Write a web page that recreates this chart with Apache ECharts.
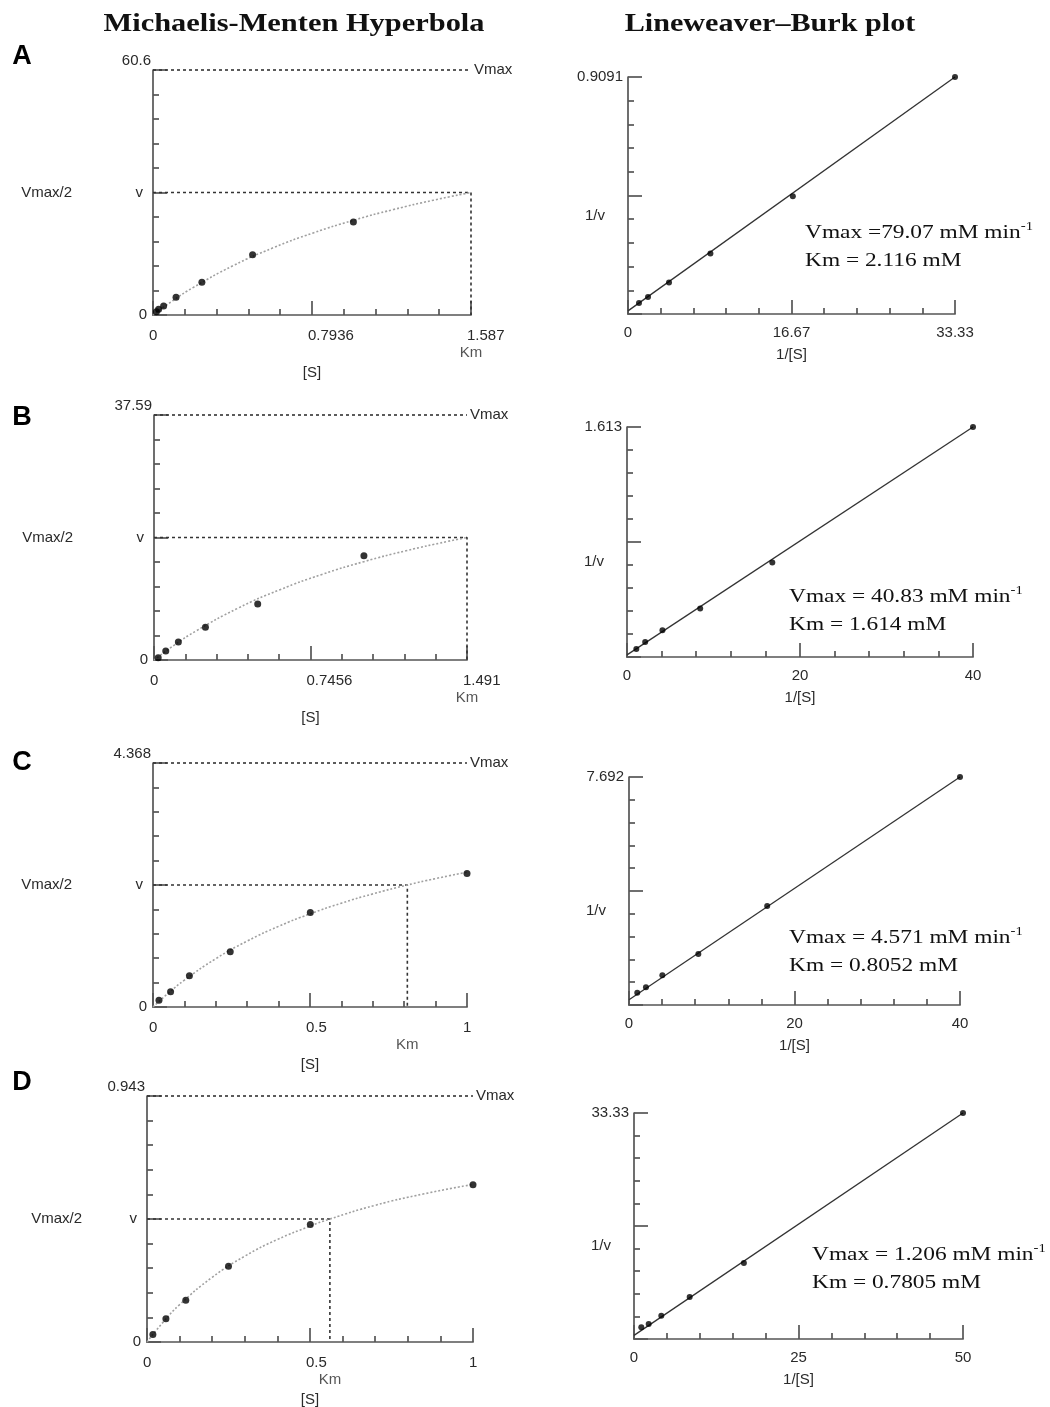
<!DOCTYPE html>
<html><head><meta charset="utf-8">
<script src="https://cdn.jsdelivr.net/npm/echarts@6/dist/echarts.min.js"></script>
<style>html,body{margin:0;padding:0;background:#fff}#c{width:1050px;height:1407px}</style>
</head><body><div id="c"></div>
<script>
// ---------------- DATA ----------------
// Panel A
const aS = [0.017, 0.028, 0.053, 0.115, 0.244, 0.497, 1.0];
const aV = [0.8, 1.4, 2.2, 4.37, 8.08, 14.9, 23.0];
const aCurveS = [0, 0.1, 0.2, 0.4, 0.6, 0.8, 1.0, 1.2, 1.4, 1.587];
const aCurveV = [0, 3.59, 6.78, 12.2, 16.63, 20.31, 23.42, 26.09, 28.4, 30.3];
const aVmaxAxis = 60.6, aKm = 1.587, aSMax = 1.587;
const aMMxTicks = ['0', '0.7936', '1.587'];
const aMMyTop = '60.6';
const aInvS = [1.12, 2.04, 4.18, 8.4, 16.8, 33.33];
const aInvV = [0.042, 0.065, 0.121, 0.232, 0.452, 0.9091];
const aFitX = [0, 33.33], aFitY = [0.012, 0.9091];
const aLBxMax = 33.33, aLByMax = 0.9091;
const aLBxTicks = ['0', '16.67', '33.33'], aLByTop = '0.9091';
const aVmaxText = 'Vmax =79.07 mM min', aKmText = 'Km = 2.116 mM';

// Panel B
const bS = [0.02, 0.056, 0.116, 0.245, 0.494, 1.0];
const bV = [0.36, 1.38, 2.76, 5.01, 8.59, 16.0];
const bCurveS = [0, 0.1, 0.2, 0.4, 0.6, 0.8, 1.0, 1.2, 1.4, 1.491];
const bCurveV = [0, 2.36, 4.45, 7.95, 10.79, 13.13, 15.09, 16.76, 18.2, 18.795];
const bVmaxAxis = 37.59, bKm = 1.491, bSMax = 1.491;
const bMMxTicks = ['0', '0.7456', '1.491'];
const bMMyTop = '37.59';
const bInvS = [1.08, 2.1, 4.1, 8.46, 16.8, 40];
const bInvV = [0.056, 0.105, 0.188, 0.34, 0.663, 1.613];
const bFitX = [0, 40], bFitY = [0.015, 1.613];
const bLBxMax = 40, bLByMax = 1.613;
const bLBxTicks = ['0', '20', '40'], bLByTop = '1.613';
const bVmaxText = 'Vmax = 40.83 mM min', bKmText = 'Km = 1.614 mM';

// Panel C
const cS = [0.019, 0.056, 0.116, 0.246, 0.501, 1.0];
const cV = [0.119, 0.274, 0.559, 0.988, 1.69, 2.39];
const cCurveS = [0, 0.05, 0.1, 0.2, 0.3, 0.4, 0.5, 0.6, 0.7, 0.81, 0.9, 1.0];
const cCurveV = [0, 0.254, 0.48, 0.865, 1.18, 1.444, 1.667, 1.859, 2.025, 2.184, 2.299, 2.413];
const cVmaxAxis = 4.368, cKm = 0.81, cSMax = 1;
const cMMxTicks = ['0', '0.5', '1'];
const cMMyTop = '4.368';
const cInvS = [1.0, 2.05, 4.03, 8.38, 16.7, 40];
const cInvV = [0.415, 0.595, 1.0, 1.72, 3.34, 7.692];
const cFitX = [0, 40], cFitY = [0.18, 7.692];
const cLBxMax = 40, cLByMax = 7.692;
const cLBxTicks = ['0', '20', '40'], cLByTop = '7.692';
const cVmaxText = 'Vmax = 4.571 mM min', cKmText = 'Km = 0.8052 mM';

// Panel D
const dS = [0.018, 0.058, 0.119, 0.25, 0.501, 1.0];
const dV = [0.029, 0.0896, 0.16, 0.29, 0.45, 0.603];
const dCurveS = [0, 0.05, 0.1, 0.2, 0.3, 0.4, 0.5, 0.561, 0.7, 0.85, 1.0];
const dCurveV = [0, 0.077, 0.143, 0.248, 0.329, 0.393, 0.444, 0.4715, 0.524, 0.568, 0.604];
const dVmaxAxis = 0.943, dKm = 0.561, dSMax = 1;
const dMMxTicks = ['0', '0.5', '1'];
const dMMyTop = '0.943';
const dInvS = [1.11, 2.23, 4.15, 8.46, 16.7, 50];
const dInvV = [1.72, 2.21, 3.44, 6.19, 11.2, 33.33];
const dFitX = [0, 50], dFitY = [0.53, 33.33];
const dLBxMax = 50, dLByMax = 33.33;
const dLBxTicks = ['0', '25', '50'], dLByTop = '33.33';
const dVmaxText = 'Vmax = 1.206 mM min', dKmText = 'Km = 0.7805 mM';

const letters = ['A', 'B', 'C', 'D'];

// ---------------- LAYOUT ----------------
const mmGrids = [
  {left: 153, top: 70, width: 318, height: 245},
  {left: 154, top: 415, width: 313, height: 245},
  {left: 153, top: 763, width: 314, height: 244},
  {left: 147, top: 1096, width: 326, height: 246}
];
const lbGrids = [
  {left: 628, top: 77, width: 327, height: 237},
  {left: 627, top: 427, width: 346, height: 230},
  {left: 629, top: 777, width: 331, height: 228},
  {left: 634, top: 1113, width: 329, height: 226}
];
const halfNameGap = [81, 81, 81, 65];
const letterY = [57, 418, 763, 1083];
const annot = [{x: 805, y: 219}, {x: 789, y: 583}, {x: 789, y: 924}, {x: 812, y: 1241}];

const panels = [
  {S: aS, V: aV, cS: aCurveS, cV: aCurveV, vmax: aVmaxAxis, km: aKm, sMax: aSMax, mmXT: aMMxTicks, mmTop: aMMyTop,
   iX: aInvS, iY: aInvV, fX: aFitX, fY: aFitY, lbX: aLBxMax, lbY: aLByMax, lbXT: aLBxTicks, lbTop: aLByTop, t1: aVmaxText, t2: aKmText},
  {S: bS, V: bV, cS: bCurveS, cV: bCurveV, vmax: bVmaxAxis, km: bKm, sMax: bSMax, mmXT: bMMxTicks, mmTop: bMMyTop,
   iX: bInvS, iY: bInvV, fX: bFitX, fY: bFitY, lbX: bLBxMax, lbY: bLByMax, lbXT: bLBxTicks, lbTop: bLByTop, t1: bVmaxText, t2: bKmText},
  {S: cS, V: cV, cS: cCurveS, cV: cCurveV, vmax: cVmaxAxis, km: cKm, sMax: cSMax, mmXT: cMMxTicks, mmTop: cMMyTop,
   iX: cInvS, iY: cInvV, fX: cFitX, fY: cFitY, lbX: cLBxMax, lbY: cLByMax, lbXT: cLBxTicks, lbTop: cLByTop, t1: cVmaxText, t2: cKmText},
  {S: dS, V: dV, cS: dCurveS, cV: dCurveV, vmax: dVmaxAxis, km: dKm, sMax: dSMax, mmXT: dMMxTicks, mmTop: dMMyTop,
   iX: dInvS, iY: dInvV, fX: dFitX, fY: dFitY, lbX: dLBxMax, lbY: dLByMax, lbXT: dLBxTicks, lbTop: dLByTop, t1: dVmaxText, t2: dKmText}
];

// ---------------- BUILD ----------------
const AX = '#555', TXT = '#2a2a2a';
const SANS = '"Liberation Sans", Arial, sans-serif';
const SERIF = '"Liberation Serif", "Times New Roman", serif';
const zip = (a, b) => a.map((v, i) => [v, b[i]]);

const grid = [], xAxis = [], yAxis = [], series = [], graphic = [];

function baseAxis(gi, max) {
  return {
    gridIndex: gi, type: 'value', min: 0, max: max, interval: max / 2,
    nameMoveOverlap: false,
    axisLine: {show: true, onZero: false, lineStyle: {color: AX, width: 1.7}},
    axisTick: {show: true, inside: true, length: 14, lineStyle: {color: AX, width: 1.7}},
    minorTick: {show: true, splitNumber: 5, length: 6, lineStyle: {color: AX, width: 1.7}},
    splitLine: {show: false}, minorSplitLine: {show: false}
  };
}
const lab = (extra) => Object.assign({color: TXT, fontSize: 15, fontFamily: SANS, showMinLabel: true, showMaxLabel: true}, extra);
const nameStyle = (extra) => Object.assign({color: TXT, fontSize: 15, fontFamily: SANS}, extra);
const rs = {color: TXT, fontSize: 15, fontFamily: SANS};

panels.forEach((p, i) => {
  const gm = 2 * i, gl = 2 * i + 1;
  grid.push(Object.assign({outerBoundsMode: 'none', containLabel: false}, mmGrids[i]));
  grid.push(Object.assign({outerBoundsMode: 'none', containLabel: false}, lbGrids[i]));

  // MM axes
  xAxis[gm] = Object.assign(baseAxis(gm, p.sMax), {
    position: 'bottom',
    axisLabel: lab({formatter: (v, k) => p.mmXT[k] ?? '', align: 'left', padding: [0, 0, 0, -4], margin: 13}),
    name: '[S]', nameLocation: 'middle', nameGap: 50, nameTextStyle: nameStyle({})
  });
  yAxis[gm] = Object.assign(baseAxis(gm, p.vmax), {
    position: 'left',
    axisLabel: lab({
      margin: 2,
      formatter: (v, k) => k === 0 ? '{z|0}' : (k === 1 ? '{v|v}' : '{t|' + p.mmTop + '}'),
      rich: {
        z: Object.assign({padding: [0, 4, 0, 0]}, rs),
        v: Object.assign({padding: [0, 8, 0, 0]}, rs),
        t: Object.assign({padding: [0, 0, 18, 0]}, rs)
      }
    }),
    name: 'Vmax/2', nameLocation: 'middle', nameRotate: 0, nameGap: halfNameGap[i],
    nameTextStyle: nameStyle({})
  });
  // LB axes
  xAxis[gl] = Object.assign(baseAxis(gl, p.lbX), {
    position: 'bottom',
    axisLabel: lab({formatter: (v, k) => p.lbXT[k] ?? '', margin: 11}),
    name: '1/[S]', nameLocation: 'middle', nameGap: 33, nameTextStyle: nameStyle({})
  });
  yAxis[gl] = Object.assign(baseAxis(gl, p.lbY), {
    position: 'left',
    axisLabel: lab({formatter: (v, k) => k === 2 ? p.lbTop : '', margin: 5}),
    name: '{n|1/v}', nameLocation: 'middle', nameRotate: 0, nameGap: 23,
    nameTextStyle: nameStyle({rich: {n: Object.assign({padding: [40, 0, 0, 0]}, rs)}})
  });

  const guide = {color: '#333', type: [3, 3], width: 1.6};
  // Vmax guide
  series.push({type: 'line', xAxisIndex: gm, yAxisIndex: gm, data: [[0, p.vmax], [p.sMax, p.vmax]],
    symbol: 'none', clip: false, silent: true, lineStyle: guide,
    endLabel: {show: true, formatter: 'Vmax', distance: 3, color: TXT, fontSize: 15, fontFamily: SANS}});
  // Vmax/2 & Km guide
  series.push({type: 'line', xAxisIndex: gm, yAxisIndex: gm, data: [[0, p.vmax / 2], [p.km, p.vmax / 2], [p.km, 0]],
    symbol: 'none', clip: false, silent: true, lineStyle: guide});
  // fitted hyperbola (as read)
  series.push({type: 'line', xAxisIndex: gm, yAxisIndex: gm, data: zip(p.cS, p.cV), smooth: true,
    symbol: 'none', clip: false, silent: true, z: 3,
    lineStyle: {color: '#a0a0a0', type: [2, 2], width: 1.6}});
  // points
  series.push({type: 'scatter', xAxisIndex: gm, yAxisIndex: gm, data: zip(p.S, p.V), symbolSize: 7,
    clip: false, itemStyle: {color: '#000'}, z: 4});
  // Km label
  series.push({type: 'scatter', xAxisIndex: gm, yAxisIndex: gm, data: [[p.km, 0]], symbolSize: 1,
    clip: false, itemStyle: {color: 'rgba(0,0,0,0)'}, silent: true,
    label: {show: true, formatter: 'Km', position: 'bottom', distance: 30, color: TXT, fontSize: 15, fontFamily: SANS}});

  // LB fit line
  series.push({type: 'line', xAxisIndex: gl, yAxisIndex: gl, data: zip(p.fX, p.fY),
    symbol: 'none', clip: false, silent: true, lineStyle: {color: '#333', width: 1.3}});
  series.push({type: 'scatter', xAxisIndex: gl, yAxisIndex: gl, data: zip(p.iX, p.iY), symbolSize: 6,
    clip: false, itemStyle: {color: '#000'}, z: 4});

  // panel letter
  graphic.push({type: 'text', x: 22, y: letterY[i], style: {text: letters[i], fontSize: 27, fontWeight: 'bold',
    fontFamily: SANS, fill: '#000', align: 'center', verticalAlign: 'middle'}});
  // annotation
  graphic.push({type: 'text', x: annot[i].x, y: annot[i].y, scaleX: 1.23,
    style: {text: '{a|' + p.t1 + '}{s|-1}\n{a|' + p.t2 + '}', align: 'left', verticalAlign: 'top',
      rich: {
        a: {fontSize: 19, fontFamily: SERIF, lineHeight: 28, fill: '#111'},
        s: {fontSize: 12, fontFamily: SERIF, fill: '#111', padding: [0, 0, 12, 0]}
      }}});
});

graphic.push({type: 'text', x: 294, y: 24, scaleX: 1.17, style: {text: 'Michaelis-Menten Hyperbola',
  fontSize: 26, fontWeight: 'bold', fontFamily: SERIF, fill: '#111', align: 'center', verticalAlign: 'middle'}});
graphic.push({type: 'text', x: 770, y: 24, scaleX: 1.16, style: {text: 'Lineweaver\u2013Burk plot',
  fontSize: 26, fontWeight: 'bold', fontFamily: SERIF, fill: '#111', align: 'center', verticalAlign: 'middle'}});

const chart = echarts.init(document.getElementById('c'), null, {renderer: 'canvas'});
chart.setOption({
  backgroundColor: '#fff',
  animation: false,
  grid, xAxis, yAxis, series, graphic
});
</script>
</body></html>
